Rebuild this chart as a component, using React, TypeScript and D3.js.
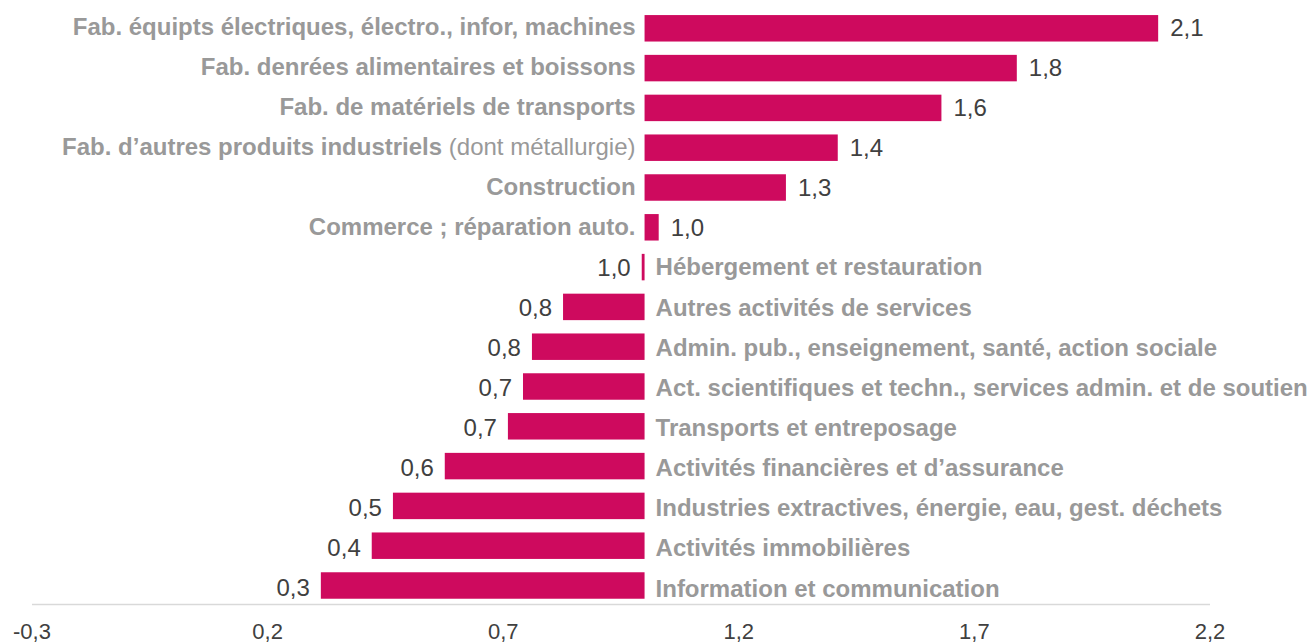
import React from "react";
import * as d3 from "d3";

const categories: string[] = [
  "Fab. équipts électriques, électro., infor, machines",
  "Fab. denrées alimentaires et boissons",
  "Fab. de matériels de transports",
  "Fab. d’autres produits industriels",
  "Construction",
  "Commerce ; réparation auto.",
  "Hébergement et restauration",
  "Autres activités de services",
  "Admin. pub., enseignement, santé, action sociale",
  "Act. scientifiques et techn., services admin. et de soutien",
  "Transports et entreposage",
  "Activités financières et d’assurance",
  "Industries extractives, énergie, eau, gest. déchets",
  "Activités immobilières",
  "Information et communication",
];
const categoryNotes: string[] = ["", "", "", " (dont métallurgie)", "", "", "", "", "", "", "", "", "", "", ""];
const values: number[] = [2.09, 1.79, 1.63, 1.41, 1.3, 1.03, 0.994, 0.827, 0.761, 0.742, 0.71, 0.576, 0.466, 0.421, 0.313];
const ticks: number[] = [-0.3, 0.2, 0.7, 1.2, 1.7, 2.2];
const baseline = 1.0;

const fmt = (v: number) => d3.format(".1f")(v).replace("−", "-").replace(".", ",");

export default function App() {
  const W = 1310;
  const H = 644;
  const x = d3.scaleLinear().domain([-0.3, 2.2]).range([32, 1210]);
  const y = d3
    .scaleBand<number>()
    .domain(d3.range(categories.length))
    .range([8.4, 605.4])
    .paddingInner(0.335)
    .paddingOuter(0.1675);
  // category label baselines (slightly different pitch than the bars in the source)
  const yLab = d3.scaleLinear().domain([0, categories.length - 1]).range([34.5, 596.5]);
  const font = "'Liberation Sans', Arial, sans-serif";
  const fs = 24;
  const barColor = "#CE0A5E";
  const catColor = "#999999";
  const valColor = "#404040";
  const axisY = 604.5;

  return (
    <svg
      width={W}
      height={H}
      style={{ position: "absolute", left: 0, top: 0, display: "block" }}
      fontFamily={font}
    >
      {values.map((v, i) => {
        const x0 = x(baseline);
        const x1 = x(v);
        const yc = (y(i) as number) + y.bandwidth() / 2;
        const pos = v >= baseline;
        return (
          <g key={i}>
            <rect
              x={Math.min(x0, x1)}
              y={y(i)}
              width={Math.max(Math.abs(x1 - x0), 2.5)}
              height={y.bandwidth()}
              fill={barColor}
            />
            <text
              x={pos ? x1 + 12 : x1 - 11}
              y={(yc + yLab(i)) / 2 + 4.5}
              textAnchor={pos ? "start" : "end"}
              fontSize={fs}
              fill={valColor}
            >
              {fmt(v)}
            </text>
            <text
              x={pos ? x0 - 9 : x0 + 11}
              y={yLab(i)}
              textAnchor={pos ? "end" : "start"}
              fontSize={fs}
              fill={catColor}
            >
              <tspan fontWeight="bold">{categories[i]}</tspan>
              {categoryNotes[i] ? <tspan fontWeight="normal">{categoryNotes[i]}</tspan> : null}
            </text>
          </g>
        );
      })}
      <line x1={x(-0.3)} x2={x(2.2)} y1={axisY} y2={axisY} stroke="#d9d9d9" strokeWidth={1.5} />
      {ticks.map((t) => (
        <text
          key={t}
          x={x(t)}
          y={639}
          textAnchor="middle"
          fontSize={22}
          fill={valColor}
        >
          {fmt(t)}
        </text>
      ))}
    </svg>
  );
}
